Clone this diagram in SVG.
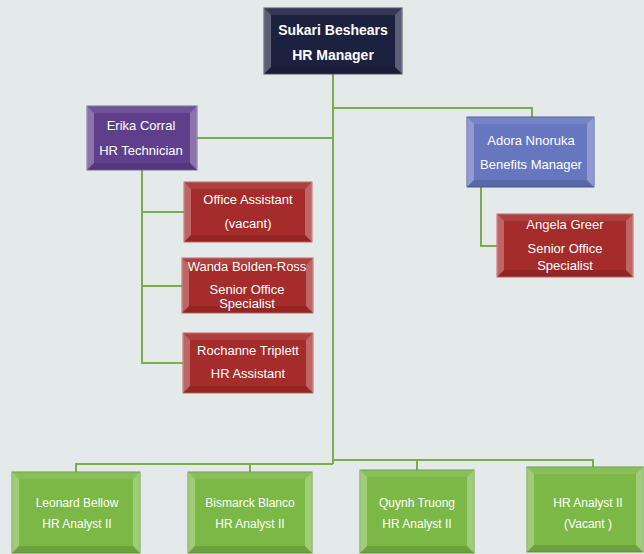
<svg xmlns="http://www.w3.org/2000/svg" width="644" height="554" viewBox="0 0 644 554">
<style>
.bg{fill:#e4eaea}
.navy{fill:#1d2140;stroke:#4a4f63;stroke-width:1}
.purple{fill:#5f3f8c;stroke:#7d66a2;stroke-width:1}
.red{fill:#a52c2a;stroke:#c46664;stroke-width:1}
.blue{fill:#6677bf;stroke:#4c5a99;stroke-width:1}
.green{fill:#7cb846;stroke:#6a9c3c;stroke-width:1}
.bl{fill:#ffffff;opacity:0.28}
.bt{fill:#ffffff;opacity:0.10}
.bb{fill:#000000;opacity:0.12}
.conn{fill:none;stroke:#7dab4e;stroke-width:2}
text{font-family:"Liberation Sans",Arial,sans-serif;fill:#ffffff;text-anchor:middle}
.t1{font-size:14px;font-weight:bold}
.t2{font-size:13px}
.t3{font-size:12px}
</style>
<rect class="bg" x="0" y="0" width="644" height="554"/>
<g id="connectors">
<path class="conn" d="M333,74 V464"/>
<path class="conn" d="M333,108 H532 V117"/>
<path class="conn" d="M197,138 H333"/>
<path class="conn" d="M142,170 V363 H183 M142,212 H184 M142,286 H182"/>
<path class="conn" d="M481,187 V246 H497"/>
<path class="conn" d="M333,464 H76 V472 M250,464 V472"/>
<path class="conn" d="M333,460 H593 V467 M417,460 V470"/>
</g>
<g id="sukari">
<rect class="navy" x="264" y="8" width="138" height="66"/>
<polygon class="bt" points="264,8 402,8 395,15 271,15"/>
<polygon class="bb" points="264,74 402,74 395,67 271,67"/>
<polygon class="bl" points="264,8 271,15 271,67 264,74"/>
<polygon class="bl" points="402,8 395,15 395,67 402,74"/>
<text class="t1" x="333" y="35">Sukari Beshears</text>
<text class="t1" x="333" y="60">HR Manager</text>
</g>
<g id="erika">
<rect class="purple" x="87" y="106" width="110" height="64"/>
<polygon class="bt" points="87,106 197,106 190,113 94,113"/>
<polygon class="bb" points="87,170 197,170 190,163 94,163"/>
<polygon class="bl" points="87,106 94,113 94,163 87,170"/>
<polygon class="bl" points="197,106 190,113 190,163 197,170"/>
<text class="t2" x="141" y="130">Erika Corral</text>
<text class="t2" x="141" y="155">HR Technician</text>
</g>
<g id="office">
<rect class="red" x="184" y="182" width="128" height="60"/>
<polygon class="bt" points="184,182 312,182 305,189 191,189"/>
<polygon class="bb" points="184,242 312,242 305,235 191,235"/>
<polygon class="bl" points="184,182 191,189 191,235 184,242"/>
<polygon class="bl" points="312,182 305,189 305,235 312,242"/>
<text class="t2" x="248" y="204">Office Assistant</text>
<text class="t2" x="248" y="228">(vacant)</text>
</g>
<g id="wanda">
<rect class="red" x="182" y="258" width="131" height="55"/>
<polygon class="bt" points="182,258 313,258 306,265 189,265"/>
<polygon class="bb" points="182,313 313,313 306,306 189,306"/>
<polygon class="bl" points="182,258 189,265 189,306 182,313"/>
<polygon class="bl" points="313,258 306,265 306,306 313,313"/>
<text class="t2" x="247" y="271">Wanda Bolden-Ross</text>
<text class="t2" x="247" y="294">Senior Office</text>
<text class="t2" x="247" y="308">Specialist</text>
</g>
<g id="rochanne">
<rect class="red" x="183" y="333" width="130" height="60"/>
<polygon class="bt" points="183,333 313,333 306,340 190,340"/>
<polygon class="bb" points="183,393 313,393 306,386 190,386"/>
<polygon class="bl" points="183,333 190,340 190,386 183,393"/>
<polygon class="bl" points="313,333 306,340 306,386 313,393"/>
<text class="t2" x="248" y="355">Rochanne Triplett</text>
<text class="t2" x="248" y="378">HR Assistant</text>
</g>
<g id="adora">
<rect class="blue" x="467" y="117" width="127" height="70"/>
<polygon class="bt" points="467,117 594,117 587,124 474,124"/>
<polygon class="bb" points="467,187 594,187 587,180 474,180"/>
<polygon class="bl" points="467,117 474,124 474,180 467,187"/>
<polygon class="bl" points="594,117 587,124 587,180 594,187"/>
<text class="t2" x="531" y="145">Adora Nnoruka</text>
<text class="t2" x="531" y="169">Benefits Manager</text>
</g>
<g id="angela">
<rect class="red" x="497" y="214" width="136" height="63"/>
<polygon class="bt" points="497,214 633,214 626,221 504,221"/>
<polygon class="bb" points="497,277 633,277 626,270 504,270"/>
<polygon class="bl" points="497,214 504,221 504,270 497,277"/>
<polygon class="bl" points="633,214 626,221 626,270 633,277"/>
<text class="t2" x="565" y="229">Angela Greer</text>
<text class="t2" x="565" y="253">Senior Office</text>
<text class="t2" x="565" y="270">Specialist</text>
</g>
<g id="leonard">
<rect class="green" x="12" y="472" width="128" height="81"/>
<polygon class="bt" points="12,472 140,472 133,479 19,479"/>
<polygon class="bb" points="12,553 140,553 133,546 19,546"/>
<polygon class="bl" points="12,472 19,479 19,546 12,553"/>
<polygon class="bl" points="140,472 133,479 133,546 140,553"/>
<text class="t3" x="77" y="507">Leonard Bellow</text>
<text class="t3" x="77" y="528">HR Analyst II</text>
</g>
<g id="bismarck">
<rect class="green" x="188" y="472" width="124" height="81"/>
<polygon class="bt" points="188,472 312,472 305,479 195,479"/>
<polygon class="bb" points="188,553 312,553 305,546 195,546"/>
<polygon class="bl" points="188,472 195,479 195,546 188,553"/>
<polygon class="bl" points="312,472 305,479 305,546 312,553"/>
<text class="t3" x="250" y="507">Bismarck Blanco</text>
<text class="t3" x="250" y="528">HR Analyst II</text>
</g>
<g id="quynh">
<rect class="green" x="360" y="470" width="114" height="83"/>
<polygon class="bt" points="360,470 474,470 467,477 367,477"/>
<polygon class="bb" points="360,553 474,553 467,546 367,546"/>
<polygon class="bl" points="360,470 367,477 367,546 360,553"/>
<polygon class="bl" points="474,470 467,477 467,546 474,553"/>
<text class="t3" x="417" y="507">Quynh Truong</text>
<text class="t3" x="417" y="528">HR Analyst II</text>
</g>
<g id="vacant">
<rect class="green" x="527" y="467" width="116" height="85"/>
<polygon class="bt" points="527,467 643,467 636,474 534,474"/>
<polygon class="bb" points="527,552 643,552 636,545 534,545"/>
<polygon class="bl" points="527,467 534,474 534,545 527,552"/>
<polygon class="bl" points="643,467 636,474 636,545 643,552"/>
<text class="t3" x="588" y="507">HR Analyst II</text>
<text class="t3" x="588" y="528">(Vacant )</text>
</g>
</svg>
